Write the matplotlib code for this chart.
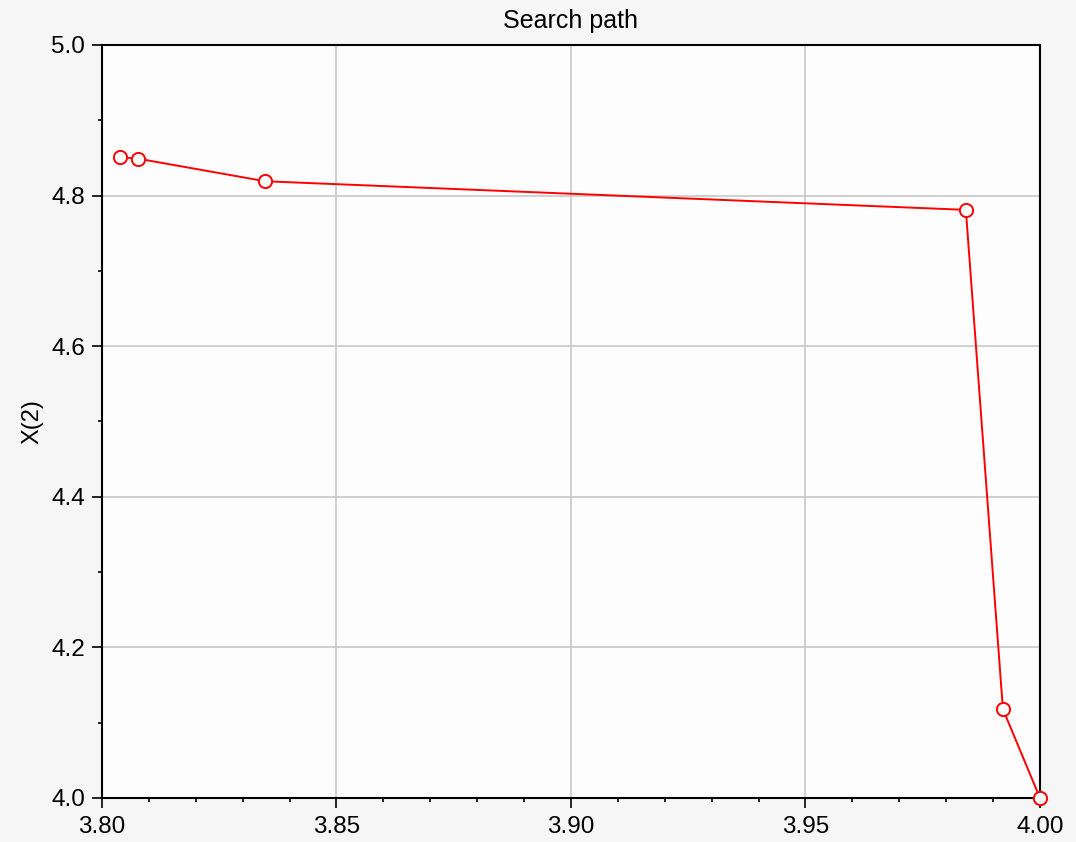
import numpy as np
import matplotlib.pyplot as plt
from matplotlib.ticker import MultipleLocator

plt.rcParams['font.family'] = ['Liberation Sans', 'DejaVu Sans']

# search path points (x1, x2)
x1 = [3.8038, 3.8077, 3.8348, 3.9842, 3.9921, 4.0000]
x2 = [4.851, 4.849, 4.819, 4.781, 4.118, 4.000]

fig = plt.figure(figsize=(10.76, 8.42), dpi=100, facecolor='#f6f6f6')
ax = fig.add_axes([0.0948, 0.0523, 0.8717, 0.8943])
ax.set_facecolor('#fdfdfd')

ax.plot(x1, x2, color='red', lw=1.4, marker='o', markersize=9.5,
        markerfacecolor='white', markeredgecolor='red', markeredgewidth=1.4,
        clip_on=False, zorder=3)

ax.set_xlim(3.80, 4.00)
ax.set_ylim(4.0, 5.0)
ax.xaxis.set_major_locator(MultipleLocator(0.05))
ax.xaxis.set_minor_locator(MultipleLocator(0.01))
ax.yaxis.set_major_locator(MultipleLocator(0.2))
ax.yaxis.set_minor_locator(MultipleLocator(0.1))
ax.xaxis.set_major_formatter(lambda v, p: f"{v:.2f}")
ax.yaxis.set_major_formatter(lambda v, p: f"{v:.1f}")

ax.grid(True, which='major', color='#c8c8c8', lw=1.2)
ax.set_axisbelow(True)
for s in ax.spines.values():
    s.set_linewidth(1.5)
    s.set_color('black')
ax.tick_params(which='major', direction='out', length=7, width=1.2, labelsize=17.5)
ax.tick_params(axis='y', which='major', pad=5)
ax.tick_params(axis='x', which='major', pad=6)
ax.tick_params(which='minor', direction='out', length=3, width=1.2)

ax.set_title("Search path", fontsize=18, pad=12)
ax.set_ylabel("X(2)", fontsize=17, labelpad=6)

fig.savefig("out.png", dpi=100, facecolor=fig.get_facecolor())
